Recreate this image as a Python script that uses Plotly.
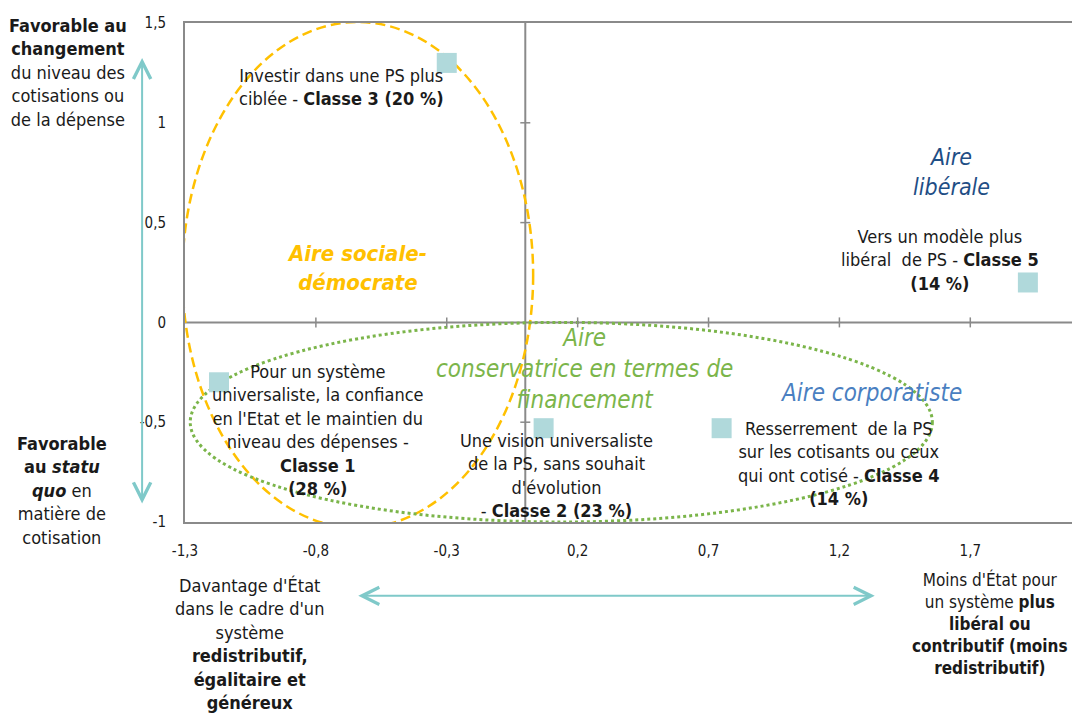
import plotly.graph_objects as go

# ------------------------------------------------------------
# Données : coordonnées des classes (plan factoriel)
# ------------------------------------------------------------
classes = ["Classe 1", "Classe 2", "Classe 3", "Classe 4", "Classe 5"]
coord_x = [-1.17, 0.07, -0.30, 0.75, 1.92]
coord_y = [-0.30, -0.53, 1.30, -0.53, 0.20]

x_ticks = [-1.3, -0.8, -0.3, 0.2, 0.7, 1.2, 1.7]
x_ticktext = ["-1,3", "-0,8", "-0,3", "0,2", "0,7", "1,2", "1,7"]
y_ticks = [1.5, 1.0, 0.5, 0.0, -0.5, -1.0]
y_ticktext = ["1,5", "1", "0,5", "0", "-0,5", "-1"]

FONT = "Liberation Sans Narrow, Arial Narrow, DejaVu Sans Condensed, sans-serif"
GRIS = "#8a8a8a"
TEAL = "#b0d9db"
FLECHE = "#7fc9c9"
JAUNE = "#ffc000"
VERT = "#7bb54a"

fig = go.Figure()

# Points des classes
fig.add_trace(go.Scatter(
    x=coord_x, y=coord_y, mode="markers",
    marker=dict(symbol="square", size=20, color=TEAL),
    text=classes, hoverinfo="text", showlegend=False,
))

# Ellipses des "aires"
fig.add_shape(type="circle", xref="x", yref="y",
              x0=-1.31, x1=0.03, y0=-1.03, y1=1.505,
              line=dict(color=JAUNE, width=2.5, dash="10px,5px"), layer="below")
fig.add_shape(type="circle", xref="x", yref="y",
              x0=-1.28, x1=1.555, y0=-1.0, y1=0.0,
              line=dict(color=VERT, width=3, dash="dot"), layer="below")

# Axes passant par l'origine + petites graduations
fig.add_shape(type="line", xref="x", yref="paper", x0=0, x1=0, y0=0, y1=1,
              line=dict(color=GRIS, width=2), layer="below")
fig.add_shape(type="line", xref="paper", yref="y", x0=0, x1=1, y0=0, y1=0,
              line=dict(color=GRIS, width=2), layer="below")
for xt in x_ticks[1:]:
    fig.add_shape(type="line", xref="x", yref="y", x0=xt, x1=xt,
                  ysizemode="pixel", yanchor=0, y0=-5, y1=5,
                  line=dict(color=GRIS, width=1.5), layer="below")
for yt in y_ticks:
    if yt in (0.0, 1.5, -1.0):
        continue
    fig.add_shape(type="line", xref="x", yref="y", y0=yt, y1=yt,
                  xsizemode="pixel", xanchor=0, x0=-5, x1=5,
                  line=dict(color=GRIS, width=1.5), layer="below")

# Libellés des classes
noir = dict(family=FONT, size=18, color="#1a1a1a")
labels = [
    (-0.702, 1.179, "Investir dans une PS plus<br>ciblée - <b>Classe 3 (20 %)</b>"),
    (-0.793, -0.539, "Pour un système<br>universaliste, la confiance<br>en l'Etat et le maintien du"
                     "<br>niveau des dépenses -<br><b>Classe 1</b><br><b>(28 %)</b>"),
    (0.118, -0.765, "Une vision universaliste<br>de la PS, sans souhait<br>d'évolution"
                    "<br>- <b>Classe 2 (23 %)</b>"),
    (1.197, -0.709, "Resserrement  de la PS<br>sur les cotisants ou ceux<br>qui ont cotisé - "
                    "<b>Classe 4</b><br><b>(14 %)</b>"),
    (1.585, 0.313, "Vers un modèle plus<br>libéral  de PS - <b>Classe 5</b><br><b>(14 %)</b>"),
]
for lx, ly, txt in labels:
    fig.add_annotation(x=lx, y=ly, xref="x", yref="y", text=txt, showarrow=False,
                       font=noir, align="center")

# Noms des aires
aires = [
    (-0.644, 0.273, "<b><i>Aire sociale-<br>démocrate</i></b>", JAUNE, 22),
    (1.627, 0.753, "<i>Aire<br>libérale</i>", "#1f4e85", 23),
    (0.225, -0.233, "<i>Aire<br>conservatrice en termes de<br>financement</i>", VERT, 24),
    (1.319, -0.354, "<i>Aire corporatiste</i>", "#4a7fc1", 24),
]
for ax_, ay_, txt, col, fs in aires:
    fig.add_annotation(x=ax_, y=ay_, xref="x", yref="y", text=txt, showarrow=False,
                       font=dict(family=FONT, size=fs, color=col), align="center")

# Textes en dehors du graphique
dehors = [
    (-0.132, 0.90, 18, "<b>Favorable au<br>changement</b><br>du niveau des<br>cotisations ou<br>de la dépense"),
    (-0.138, 0.064, 18, "<b>Favorable<br>au <i>statu<br>quo</i></b> en<br>matière de<br>cotisation"),
    (0.073, -0.244, 18, "Davantage d'État<br>dans le cadre d'un<br>système<br><b>redistributif,"
                        "<br>égalitaire et<br>généreux</b>"),
    (0.905, -0.204, 17, "Moins d'État pour<br>un système <b>plus<br>libéral ou<br>contributif (moins"
                        "<br>redistributif)</b>"),
]
for tx, ty, fs, txt in dehors:
    fig.add_annotation(x=tx, y=ty, xref="paper", yref="paper", text=txt, showarrow=False,
                       font=dict(family=FONT, size=fs, color="#1a1a1a"),
                       align="center", xanchor="center", yanchor="middle")

# Flèches doubles
fig.add_annotation(x=-0.0482, y=0.93, xref="paper", yref="paper", ax=0, ay=447,
                   text="", showarrow=True, arrowside="end+start", arrowhead=5,
                   startarrowhead=5, arrowsize=1.7, startarrowsize=1.7,
                   arrowwidth=2, arrowcolor=FLECHE)
fig.add_annotation(x=0.775, y=-0.148, xref="paper", yref="paper", ax=-518, ay=0,
                   text="", showarrow=True, arrowside="end+start", arrowhead=5,
                   startarrowhead=5, arrowsize=1.7, startarrowsize=1.7,
                   arrowwidth=2, arrowcolor=FLECHE)

fig.update_xaxes(range=[-1.3, 2.1], tickvals=x_ticks, ticktext=x_ticktext,
                 showgrid=False, zeroline=False, showline=True, mirror=True,
                 linecolor=GRIS, linewidth=2, ticks="", ticklabelstandoff=14,
                 tickfont=dict(family=FONT, size=15, color="#1a1a1a"))
fig.update_yaxes(range=[-1.0, 1.5], tickvals=y_ticks, ticktext=y_ticktext,
                 showgrid=False, zeroline=False, showline=True, mirror=True,
                 linecolor=GRIS, linewidth=2, ticks="", ticklabelstandoff=14,
                 tickfont=dict(family=FONT, size=15, color="#1a1a1a"))

# la page ajoute une marge de 8 px : figure un peu réduite pour tomber juste
fig.update_layout(
    width=1072, height=710,
    margin=dict(l=177, r=3, t=15, b=196),
    plot_bgcolor="white", paper_bgcolor="white",
    showlegend=False,
)

fig.write_html("out.html")
